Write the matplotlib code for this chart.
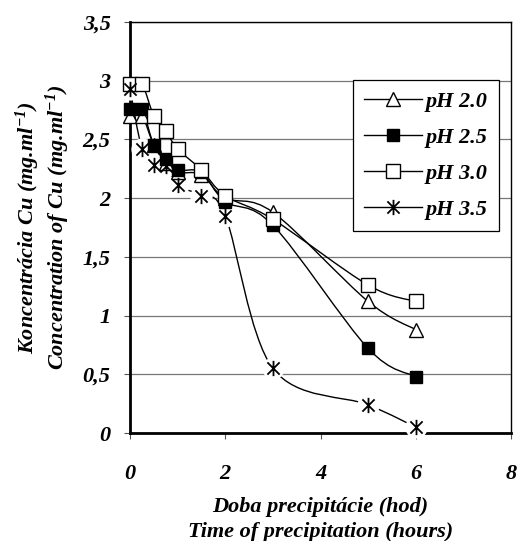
import matplotlib
matplotlib.use('Agg')
import matplotlib.pyplot as plt
from matplotlib.path import Path
from matplotlib.patches import PathPatch
import numpy as np

# time of precipitation (hours)
hours = [0, 0.25, 0.5, 0.75, 1, 1.5, 2, 3, 5, 6]
ph20 = [2.70, 2.70, 2.45, 2.30, 2.22, 2.20, 2.00, 1.88, 1.12, 0.88]
ph25 = [2.76, 2.76, 2.45, 2.33, 2.24, 2.22, 1.97, 1.77, 0.72, 0.48]
ph30 = [2.97, 2.97, 2.70, 2.57, 2.42, 2.24, 2.02, 1.82, 1.26, 1.12]
ph35 = [2.93, 2.42, 2.28, 2.27, 2.11, 2.02, 1.85, 0.55, 0.24, 0.05]
labels = ['pH 2.0', 'pH 2.5', 'pH 3.0', 'pH 3.5']

plt.rcParams['mathtext.fontset'] = 'custom'
plt.rcParams['mathtext.rm'] = 'Liberation Serif:bold:italic'
plt.rcParams['mathtext.it'] = 'Liberation Serif:bold:italic'
plt.rcParams['mathtext.bf'] = 'Liberation Serif:bold:italic'

FONT = {'family': 'Liberation Serif', 'weight': 'bold', 'style': 'italic'}
FS = 16

# asterisk marker: a cross with a vertical bar through it
STAR = Path([(0, -1), (0, 1), (-0.8, -0.8), (0.8, 0.8), (-0.8, 0.8), (0.8, -0.8)],
            [Path.MOVETO, Path.LINETO] * 3)


def smooth_path(x, y):
    # Excel-like smoothed line: bezier segments through the points
    p = np.column_stack([x, y]).astype(float)
    n = len(p)
    verts = [p[0]]
    codes = [Path.MOVETO]
    for i in range(n - 1):
        p0 = p[i - 1] if i > 0 else p[i]
        p3 = p[i + 2] if i + 2 < n else p[i + 1]
        c1 = p[i] + (p[i + 1] - p0) / 6.0
        c2 = p[i + 1] - (p3 - p[i]) / 6.0
        verts += [c1, c2, p[i + 1]]
        codes += [Path.CURVE4] * 3
    return Path(verts, codes)


def main():
    fig = plt.figure(figsize=(5.17, 5.41), dpi=100)
    ax = fig.add_axes([0.2515, 0.1996, 0.7369, 0.7597])

    styles = [
        dict(marker='^', mfc='white', mec='black', ms=10),
        dict(marker='s', mfc='black', mec='black', ms=9),
        dict(marker='s', mfc='white', mec='black', ms=10),
        dict(marker=STAR, mfc='none', mec='black', ms=11, mew=1.3),
    ]
    series = [ph20, ph25, ph30, ph35]
    for i, (vals, st) in enumerate(zip(series, styles)):
        ax.add_patch(PathPatch(smooth_path(hours, vals), fill=False,
                               edgecolor='black', lw=1.0, zorder=3))
        if i == 3:
            # white halo around the asterisks hides the line next to them
            ax.plot(hours, vals, ls='none', marker='o', ms=16, mfc='white',
                    mec='none', zorder=4, clip_on=False)
        ax.plot(hours, vals, ls='none', zorder=5 + i, clip_on=False, **st)

    # legend handles
    handles = []
    for st, lab in zip(styles, labels):
        h, = ax.plot([], [], color='black', lw=1.0, **st)
        handles.append(h)
    leg = ax.legend(handles, labels, loc='upper right',
                    bbox_to_anchor=(0.9685, 0.859), borderaxespad=0,
                    frameon=True, fancybox=False, edgecolor='black',
                    handlelength=2.6, labelspacing=0.7, borderpad=0.5,
                    handletextpad=0.2, framealpha=1,
                    prop={'family': 'Liberation Serif', 'weight': 'bold',
                          'style': 'italic', 'size': FS})
    leg.get_frame().set_linewidth(0.9)
    leg.set_zorder(20)

    ax.set_xlim(0, 8)
    ax.set_ylim(0, 3.5)
    ax.set_xticks([0, 2, 4, 6, 8])
    ax.set_yticks(np.arange(0, 3.51, 0.5))
    ax.set_yticklabels(['0', '0,5', '1', '1,5', '2', '2,5', '3', '3,5'])
    for t in ax.get_xticklabels() + ax.get_yticklabels():
        t.set_fontfamily('Liberation Serif')
        t.set_fontweight('bold')
        t.set_fontstyle('italic')
        t.set_fontsize(FS)
    ax.tick_params(axis='both', direction='out', length=4, width=0.8,
                   color='#555555')
    ax.tick_params(axis='x', pad=18)
    ax.tick_params(axis='y', pad=10)

    ax.yaxis.grid(True, color='#777777', lw=0.9)
    ax.set_axisbelow(True)
    ax.spines['left'].set_linewidth(2.0)
    ax.spines['bottom'].set_linewidth(2.0)
    ax.spines['top'].set_linewidth(1.0)
    ax.spines['right'].set_linewidth(1.0)

    ax.set_xlabel('Doba precipitácie (hod)\nTime of precipitation (hours)',
                  fontsize=FS, labelpad=10, linespacing=1.3, **FONT)
    ax.set_ylabel('Koncentrácia Cu (mg.ml$^{-1}$)\n'
                  'Concentration of Cu (mg.ml$^{-1}$)',
                  fontsize=FS, labelpad=8, linespacing=1.05, **FONT)

    fig.savefig('out.png', dpi=100)


if __name__ == '__main__':
    main()
